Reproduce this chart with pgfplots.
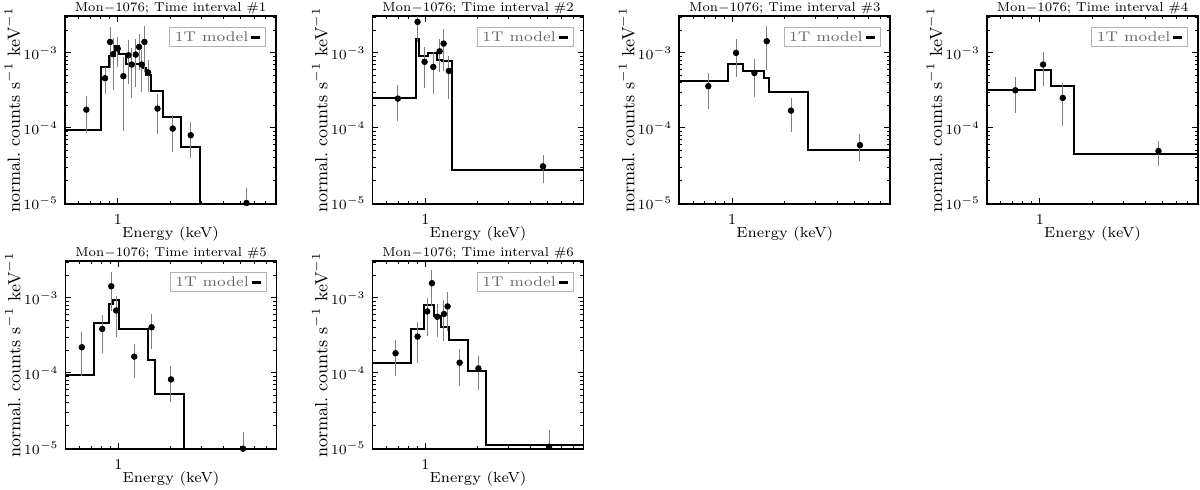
\documentclass[border=0pt]{standalone}
\usepackage{graphicx}
\usepackage{pgfplots}
\pgfplotsset{compat=1.18}
\usepackage{pgfplotstable}

\pgfplotstableread{
x y
0.5 9.5e-5
0.807 6.5e-4
0.892 9.0e-4
0.966 1.25e-3
1.018 9.7e-4
1.12 7.2e-4
1.40 6.3e-4
1.458 5.0e-4
1.557 3.1e-4
1.815 1.39e-4
2.31 5.6e-5
2.94 1e-7
8 1e-7
}\modelA
\pgfplotstableread{
x y
0.5 2.54e-4
0.888 1.55e-3
0.920 9.0e-4
1.040 1.0e-3
1.171 8.1e-4
1.25 7.8e-4
1.427 2.78e-5
8 2.78e-5
}\modelB
\pgfplotstableread{
x y
0.5 4.23e-4
0.953 7.2e-4
1.161 5.75e-4
1.530 4.6e-4
1.634 3.0e-4
2.73 5.04e-5
8 5.04e-5
}\modelC
\pgfplotstableread{
x y
0.5 3.18e-4
0.944 5.88e-4
1.156 3.6e-4
1.571 4.46e-5
8 4.46e-5
}\modelD
\pgfplotstableread{
x y
0.5 9.4e-5
0.729 4.59e-4
0.888 8.3e-4
0.936 9.4e-4
1.013 3.86e-4
1.47 1.49e-4
1.626 5.25e-5
2.36 1e-7
8 1e-7
}\modelE
\pgfplotstableread{
x y
0.5 1.35e-4
0.832 3.86e-4
0.983 8.15e-4
1.121 5.8e-4
1.234 4.06e-4
1.365 2.78e-4
1.76 1.05e-4
2.23 1.1e-5
8 1.1e-5
}\modelF

\pgfplotstableread{
x y e
0.662 1.75e-4 0.89e-4
0.846 4.6e-4 1.8e-4
0.904 1.40e-3 0.78e-3
0.940 9.6e-4 0.64e-3
1.000 1.14e-3 0.5e-3
1.077 4.9e-4 0.4e-3
1.151 9.3e-4 0.55e-3
1.202 7.0e-4 0.45e-3
1.267 9.5e-4 0.6e-3
1.324 1.2e-3 0.6e-3
1.371 7.0e-4 0.4e-3
1.420 1.4e-3 0.85e-3
1.490 5.5e-4 0.25e-3
1.686 1.81e-4 0.99e-4
2.06 9.8e-5 0.5e-4
2.61 8.0e-5 0.4e-4
5.43 1.0e-5 0.58e-5
}\dataA
\pgfplotstableread{
x y e
0.698 2.46e-4 1.24e-4
0.904 2.59e-3 1.2e-3
0.991 7.6e-4 0.42e-3
1.111 6.5e-4 0.37e-3
1.208 1.05e-3 0.5e-3
1.273 1.33e-3 0.75e-3
1.365 5.75e-4 0.33e-3
4.70 3.08e-5 1.25e-5
}\dataB
\pgfplotstableread{
x y e
0.732 3.6e-4 1.8e-4
1.054 1.0e-3 0.52e-3
1.342 5.4e-4 0.28e-3
1.578 1.43e-3 0.84e-3
2.17 1.70e-4 0.82e-4
5.37 5.9e-5 2.3e-5
}\dataC
\pgfplotstableread{
x y e
0.726 3.18e-4 1.6e-4
1.045 7.0e-4 0.34e-3
1.353 2.51e-4 1.44e-4
4.76 4.93e-5 1.8e-5
}\dataD
\pgfplotstableread{
x y e
0.620 2.2e-4 1.3e-4
0.810 3.86e-4 1.99e-4
0.912 1.43e-3 0.77e-3
0.974 6.8e-4 0.38e-3
1.234 1.65e-4 0.8e-4
1.55 4.06e-4 2.0e-4
2.0 8.2e-5 4.1e-5
5.16 9.8e-6 6.3e-6
}\dataE
\pgfplotstableread{
x y e
0.677 1.83e-4 0.93e-4
0.904 3.05e-4 1.7e-4
1.026 6.6e-4 0.35e-3
1.092 1.57e-3 0.8e-3
1.171 5.6e-4 0.26e-3
1.279 6.1e-4 0.34e-3
1.341 7.7e-4 0.41e-3
1.571 1.37e-4 0.7e-4
2.01 1.15e-4 0.55e-4
5.09 1.04e-5 0.69e-5
}\dataF

\newcommand{\legendnode}{%
  \node[draw=gray!60, anchor=north east, inner xsep=2.6pt, inner ysep=2.2pt,
        font=\fontsize{7}{8}\selectfont, text=black!60]
    at ([xshift=-5pt,yshift=-5.5pt]rel axis cs:1,1)
    {\scalebox{1.1}[1]{1T model}\hspace{1.5pt}{\color{black}\rule[1.3pt]{4.5pt}{1.7pt}}};%
}
\newcommand{\ttl}[1]{Mon$-$1076; Time interval \##1}
\newcommand{\xlab}{Energy (keV)}

\begin{document}
\begin{tikzpicture}
\useasboundingbox (0,0) rectangle (600pt,244.5pt);

% ---------------- panel 1 ----------------
\begin{axis}[
    at={(32.5pt,236.5pt)}, anchor=north west,
    xmode=log, ymode=log,
    scale only axis, width=105.5pt, height=94pt,
    xmin=0.5, xmax=8, ymin=9.7e-6, ymax=3.1e-3,
    axis line style={line width=0.9pt},
    major tick style={black, line width=0.5pt},
    minor tick style={black, line width=0.5pt},
    major tick length=3pt, minor tick length=1.6pt,
    tick align=inside,
    xtick={1}, xticklabels={1},
    minor xtick={0.5,0.6,0.7,0.8,0.9,2,3,4,5,6,7,8},
    ytick={1e-5,1e-4,1e-3},
    yticklabels={$10^{-5}$,$10^{-4}$,$10^{-3}$},
    minor ytick={2e-5,3e-5,4e-5,5e-5,6e-5,7e-5,8e-5,9e-5,2e-4,3e-4,4e-4,5e-4,6e-4,7e-4,8e-4,9e-4,2e-3,3e-3},
    tick label style={font=\fontsize{7.5}{8}\selectfont},
    xticklabel style={yshift=-1.5pt},
    xlabel={\xlab},
    ylabel={normal.~counts s$^{-1}$ keV$^{-1}$},
    xlabel style={at={(axis description cs:0.5,-0.1755)}, anchor=base, font=\fontsize{7.3}{8}\selectfont},
    ylabel style={at={(axis description cs:-0.2133,0.5)}, anchor=base, font=\fontsize{8.8}{10}\selectfont},
    title={\ttl{1}},
    title style={at={(axis description cs:0.5,1)}, anchor=base, yshift=-3.6pt, font=\fontsize{6.5}{7.5}\selectfont},
]
\addplot[const plot, black, line width=1pt] table {\modelA};
\addplot[only marks, mark=*, mark size=1.4pt, black,
    error bars/.cd, y dir=both, y explicit,
    error bar style={gray, line width=0.5pt}, error mark=none]
    table[x=x, y=y, y error=e] {\dataA};
\legendnode
\end{axis}

% ---------------- panel 2 ----------------
\begin{axis}[
    at={(186.25pt,236.5pt)}, anchor=north west,
    xmode=log, ymode=log,
    scale only axis, width=105.5pt, height=94pt,
    xmin=0.5, xmax=8, ymin=9.7e-6, ymax=3.1e-3,
    axis line style={line width=0.9pt},
    major tick style={black, line width=0.5pt},
    minor tick style={black, line width=0.5pt},
    major tick length=3pt, minor tick length=1.6pt,
    tick align=inside,
    xtick={1}, xticklabels={1},
    minor xtick={0.5,0.6,0.7,0.8,0.9,2,3,4,5,6,7,8},
    ytick={1e-5,1e-4,1e-3},
    yticklabels={$10^{-5}$,$10^{-4}$,$10^{-3}$},
    minor ytick={2e-5,3e-5,4e-5,5e-5,6e-5,7e-5,8e-5,9e-5,2e-4,3e-4,4e-4,5e-4,6e-4,7e-4,8e-4,9e-4,2e-3,3e-3},
    tick label style={font=\fontsize{7.5}{8}\selectfont},
    xticklabel style={yshift=-1.5pt},
    xlabel={\xlab},
    ylabel={normal.~counts s$^{-1}$ keV$^{-1}$},
    xlabel style={at={(axis description cs:0.5,-0.1755)}, anchor=base, font=\fontsize{7.3}{8}\selectfont},
    ylabel style={at={(axis description cs:-0.2133,0.5)}, anchor=base, font=\fontsize{8.8}{10}\selectfont},
    title={\ttl{2}},
    title style={at={(axis description cs:0.5,1)}, anchor=base, yshift=-3.6pt, font=\fontsize{6.5}{7.5}\selectfont},
]
\addplot[const plot, black, line width=1pt] table {\modelB};
\addplot[only marks, mark=*, mark size=1.4pt, black,
    error bars/.cd, y dir=both, y explicit,
    error bar style={gray, line width=0.5pt}, error mark=none]
    table[x=x, y=y, y error=e] {\dataB};
\legendnode
\end{axis}

% ---------------- panel 3 ----------------
\begin{axis}[
    at={(339.65pt,236.5pt)}, anchor=north west,
    xmode=log, ymode=log,
    scale only axis, width=105.5pt, height=94pt,
    xmin=0.5, xmax=8, ymin=9.7e-6, ymax=3.1e-3,
    axis line style={line width=0.9pt},
    major tick style={black, line width=0.5pt},
    minor tick style={black, line width=0.5pt},
    major tick length=3pt, minor tick length=1.6pt,
    tick align=inside,
    xtick={1}, xticklabels={1},
    minor xtick={0.5,0.6,0.7,0.8,0.9,2,3,4,5,6,7,8},
    ytick={1e-5,1e-4,1e-3},
    yticklabels={$10^{-5}$,$10^{-4}$,$10^{-3}$},
    minor ytick={2e-5,3e-5,4e-5,5e-5,6e-5,7e-5,8e-5,9e-5,2e-4,3e-4,4e-4,5e-4,6e-4,7e-4,8e-4,9e-4,2e-3,3e-3},
    tick label style={font=\fontsize{7.5}{8}\selectfont},
    xticklabel style={yshift=-1.5pt},
    xlabel={\xlab},
    ylabel={normal.~counts s$^{-1}$ keV$^{-1}$},
    xlabel style={at={(axis description cs:0.5,-0.1755)}, anchor=base, font=\fontsize{7.3}{8}\selectfont},
    ylabel style={at={(axis description cs:-0.2133,0.5)}, anchor=base, font=\fontsize{8.8}{10}\selectfont},
    title={\ttl{3}},
    title style={at={(axis description cs:0.5,1)}, anchor=base, yshift=-3.6pt, font=\fontsize{6.5}{7.5}\selectfont},
]
\addplot[const plot, black, line width=1pt] table {\modelC};
\addplot[only marks, mark=*, mark size=1.4pt, black,
    error bars/.cd, y dir=both, y explicit,
    error bar style={gray, line width=0.5pt}, error mark=none]
    table[x=x, y=y, y error=e] {\dataC};
\legendnode
\end{axis}

% ---------------- panel 4 ----------------
\begin{axis}[
    at={(493.5pt,236.5pt)}, anchor=north west,
    xmode=log, ymode=log,
    scale only axis, width=105.5pt, height=94pt,
    xmin=0.5, xmax=8, ymin=9.7e-6, ymax=3.1e-3,
    axis line style={line width=0.9pt},
    major tick style={black, line width=0.5pt},
    minor tick style={black, line width=0.5pt},
    major tick length=3pt, minor tick length=1.6pt,
    tick align=inside,
    xtick={1}, xticklabels={1},
    minor xtick={0.5,0.6,0.7,0.8,0.9,2,3,4,5,6,7,8},
    ytick={1e-5,1e-4,1e-3},
    yticklabels={$10^{-5}$,$10^{-4}$,$10^{-3}$},
    minor ytick={2e-5,3e-5,4e-5,5e-5,6e-5,7e-5,8e-5,9e-5,2e-4,3e-4,4e-4,5e-4,6e-4,7e-4,8e-4,9e-4,2e-3,3e-3},
    tick label style={font=\fontsize{7.5}{8}\selectfont},
    xticklabel style={yshift=-1.5pt},
    xlabel={\xlab},
    ylabel={normal.~counts s$^{-1}$ keV$^{-1}$},
    xlabel style={at={(axis description cs:0.5,-0.1755)}, anchor=base, font=\fontsize{7.3}{8}\selectfont},
    ylabel style={at={(axis description cs:-0.2133,0.5)}, anchor=base, font=\fontsize{8.8}{10}\selectfont},
    title={\ttl{4}},
    title style={at={(axis description cs:0.5,1)}, anchor=base, yshift=-3.6pt, font=\fontsize{6.5}{7.5}\selectfont},
]
\addplot[const plot, black, line width=1pt] table {\modelD};
\addplot[only marks, mark=*, mark size=1.4pt, black,
    error bars/.cd, y dir=both, y explicit,
    error bar style={gray, line width=0.5pt}, error mark=none]
    table[x=x, y=y, y error=e] {\dataD};
\legendnode
\end{axis}

% ---------------- panel 5 ----------------
\begin{axis}[
    at={(32.75pt,114pt)}, anchor=north west,
    xmode=log, ymode=log,
    scale only axis, width=105.5pt, height=94pt,
    xmin=0.5, xmax=8, ymin=9.7e-6, ymax=3.1e-3,
    axis line style={line width=0.9pt},
    major tick style={black, line width=0.5pt},
    minor tick style={black, line width=0.5pt},
    major tick length=3pt, minor tick length=1.6pt,
    tick align=inside,
    xtick={1}, xticklabels={1},
    minor xtick={0.5,0.6,0.7,0.8,0.9,2,3,4,5,6,7,8},
    ytick={1e-5,1e-4,1e-3},
    yticklabels={$10^{-5}$,$10^{-4}$,$10^{-3}$},
    minor ytick={2e-5,3e-5,4e-5,5e-5,6e-5,7e-5,8e-5,9e-5,2e-4,3e-4,4e-4,5e-4,6e-4,7e-4,8e-4,9e-4,2e-3,3e-3},
    tick label style={font=\fontsize{7.5}{8}\selectfont},
    xticklabel style={yshift=-1.5pt},
    xlabel={\xlab},
    ylabel={normal.~counts s$^{-1}$ keV$^{-1}$},
    xlabel style={at={(axis description cs:0.5,-0.1755)}, anchor=base, font=\fontsize{7.3}{8}\selectfont},
    ylabel style={at={(axis description cs:-0.2133,0.5)}, anchor=base, font=\fontsize{8.8}{10}\selectfont},
    title={\ttl{5}},
    title style={at={(axis description cs:0.5,1)}, anchor=base, yshift=-3.6pt, font=\fontsize{6.5}{7.5}\selectfont},
]
\addplot[const plot, black, line width=1pt] table {\modelE};
\addplot[only marks, mark=*, mark size=1.4pt, black,
    error bars/.cd, y dir=both, y explicit,
    error bar style={gray, line width=0.5pt}, error mark=none]
    table[x=x, y=y, y error=e] {\dataE};
\legendnode
\end{axis}

% ---------------- panel 6 ----------------
\begin{axis}[
    at={(186.25pt,114pt)}, anchor=north west,
    xmode=log, ymode=log,
    scale only axis, width=105.5pt, height=94pt,
    xmin=0.5, xmax=8, ymin=9.7e-6, ymax=3.1e-3,
    axis line style={line width=0.9pt},
    major tick style={black, line width=0.5pt},
    minor tick style={black, line width=0.5pt},
    major tick length=3pt, minor tick length=1.6pt,
    tick align=inside,
    xtick={1}, xticklabels={1},
    minor xtick={0.5,0.6,0.7,0.8,0.9,2,3,4,5,6,7,8},
    ytick={1e-5,1e-4,1e-3},
    yticklabels={$10^{-5}$,$10^{-4}$,$10^{-3}$},
    minor ytick={2e-5,3e-5,4e-5,5e-5,6e-5,7e-5,8e-5,9e-5,2e-4,3e-4,4e-4,5e-4,6e-4,7e-4,8e-4,9e-4,2e-3,3e-3},
    tick label style={font=\fontsize{7.5}{8}\selectfont},
    xticklabel style={yshift=-1.5pt},
    xlabel={\xlab},
    ylabel={normal.~counts s$^{-1}$ keV$^{-1}$},
    xlabel style={at={(axis description cs:0.5,-0.1755)}, anchor=base, font=\fontsize{7.3}{8}\selectfont},
    ylabel style={at={(axis description cs:-0.2133,0.5)}, anchor=base, font=\fontsize{8.8}{10}\selectfont},
    title={\ttl{6}},
    title style={at={(axis description cs:0.5,1)}, anchor=base, yshift=-3.6pt, font=\fontsize{6.5}{7.5}\selectfont},
]
\addplot[const plot, black, line width=1pt] table {\modelF};
\addplot[only marks, mark=*, mark size=1.4pt, black,
    error bars/.cd, y dir=both, y explicit,
    error bar style={gray, line width=0.5pt}, error mark=none]
    table[x=x, y=y, y error=e] {\dataF};
\legendnode
\end{axis}

\end{tikzpicture}
\end{document}
